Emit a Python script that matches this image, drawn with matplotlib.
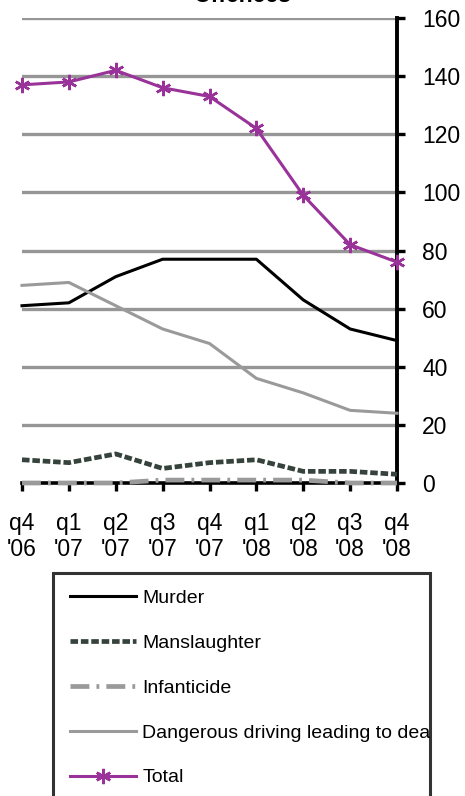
import numpy as np
from matplotlib import pyplot as plt
from matplotlib.transforms import Bbox, TransformedBbox

plt.rcParams['font.family'] = ['Liberation Sans', 'DejaVu Sans']

# quarters
quarters = ["q4\n'06", "q1\n'07", "q2\n'07", "q3\n'07", "q4\n'07",
            "q1\n'08", "q2\n'08", "q3\n'08", "q4\n'08"]
murder = [61, 62, 71, 77, 77, 77, 63, 53, 49]
manslaughter = [8, 7, 10, 5, 7, 8, 4, 4, 3]
infanticide = [0, 0, 0, 1, 1, 1, 1, 0, 0]
dangerous_driving = [68, 69, 61, 53, 48, 36, 31, 25, 24]
total = [137, 138, 142, 136, 133, 122, 99, 82, 76]
y_ticks = [0, 20, 40, 60, 80, 100, 120, 140, 160]

W, H = 465, 796
fig = plt.figure(figsize=(W / 100, H / 100), dpi=100)
ax = fig.add_axes([22 / W, 1 - 483 / H, 375 / W, 465 / H])

x = np.arange(len(quarters))

ax.plot(x, murder, color='black', lw=2.2, label='Murder', clip_on=False, zorder=3)
ax.plot(x, manslaughter, color='#36433d', lw=3.4, ls=(0, (1.6, 0.6)),
        label='Manslaughter', clip_on=False, zorder=3)
ax.plot(x, infanticide, color='#9a9a9a', lw=3.4, ls=(0, (4, 1.5, 0.6, 1.5)),
        label='Infanticide', clip_on=False, zorder=4)
ax.plot(x, dangerous_driving, color='#9a9a9a', lw=2.2,
        label='Dangerous driving leading to death', clip_on=False, zorder=3)
ax.plot(x, total, color='#993399', lw=2.2, marker=(6, 2, 0), ms=11, mew=1.8,
        label='Total', clip_on=False, zorder=5)

ax.set_xlim(0, len(quarters) - 1)
ax.set_ylim(0, 160)
ax.set_yticks(y_ticks)
ax.set_xticks(x)
ax.set_xticklabels(quarters, linespacing=1.15)

for v in y_ticks[1:]:
    ax.axhline(v, color='#969696', lw=2.4, zorder=1)

for s in ['top', 'left']:
    ax.spines[s].set_visible(False)
ax.spines['right'].set_linewidth(2.8)
ax.spines['bottom'].set_linewidth(2.6)
ax.spines['right'].set_zorder(2.5)
ax.spines['bottom'].set_zorder(2.5)

ax.yaxis.tick_right()
ax.tick_params(axis='y', direction='out', length=6, width=2.4, labelsize=16.5, pad=12)
ax.tick_params(axis='x', direction='out', length=6, width=2.4, labelsize=16.5, pad=15)

fig.text(242 / W, 1 - 1.5 / H, 'Offences', ha='center', va='baseline',
         fontsize=16.5, fontweight='bold')

leg = ax.legend(loc='upper left', bbox_to_anchor=(53 / W, 1 - 573 / H, 377 / W, 0),
                bbox_transform=fig.transFigure, mode='expand', borderaxespad=0,
                fontsize=14, frameon=True, fancybox=False, handlelength=3.4,
                handletextpad=0.35, labelspacing=1.4, borderpad=0.85)
leg.get_frame().set_edgecolor('black')
leg.get_frame().set_linewidth(2.2)
# long label is cut by the box edge, like the original
clip = TransformedBbox(Bbox([[53 / W, 0], [430 / W, 1]]), fig.transFigure)
for t in leg.get_texts():
    t.set_clip_box(clip)
    t.set_clip_on(True)

fig.savefig('out.png', dpi=100)
